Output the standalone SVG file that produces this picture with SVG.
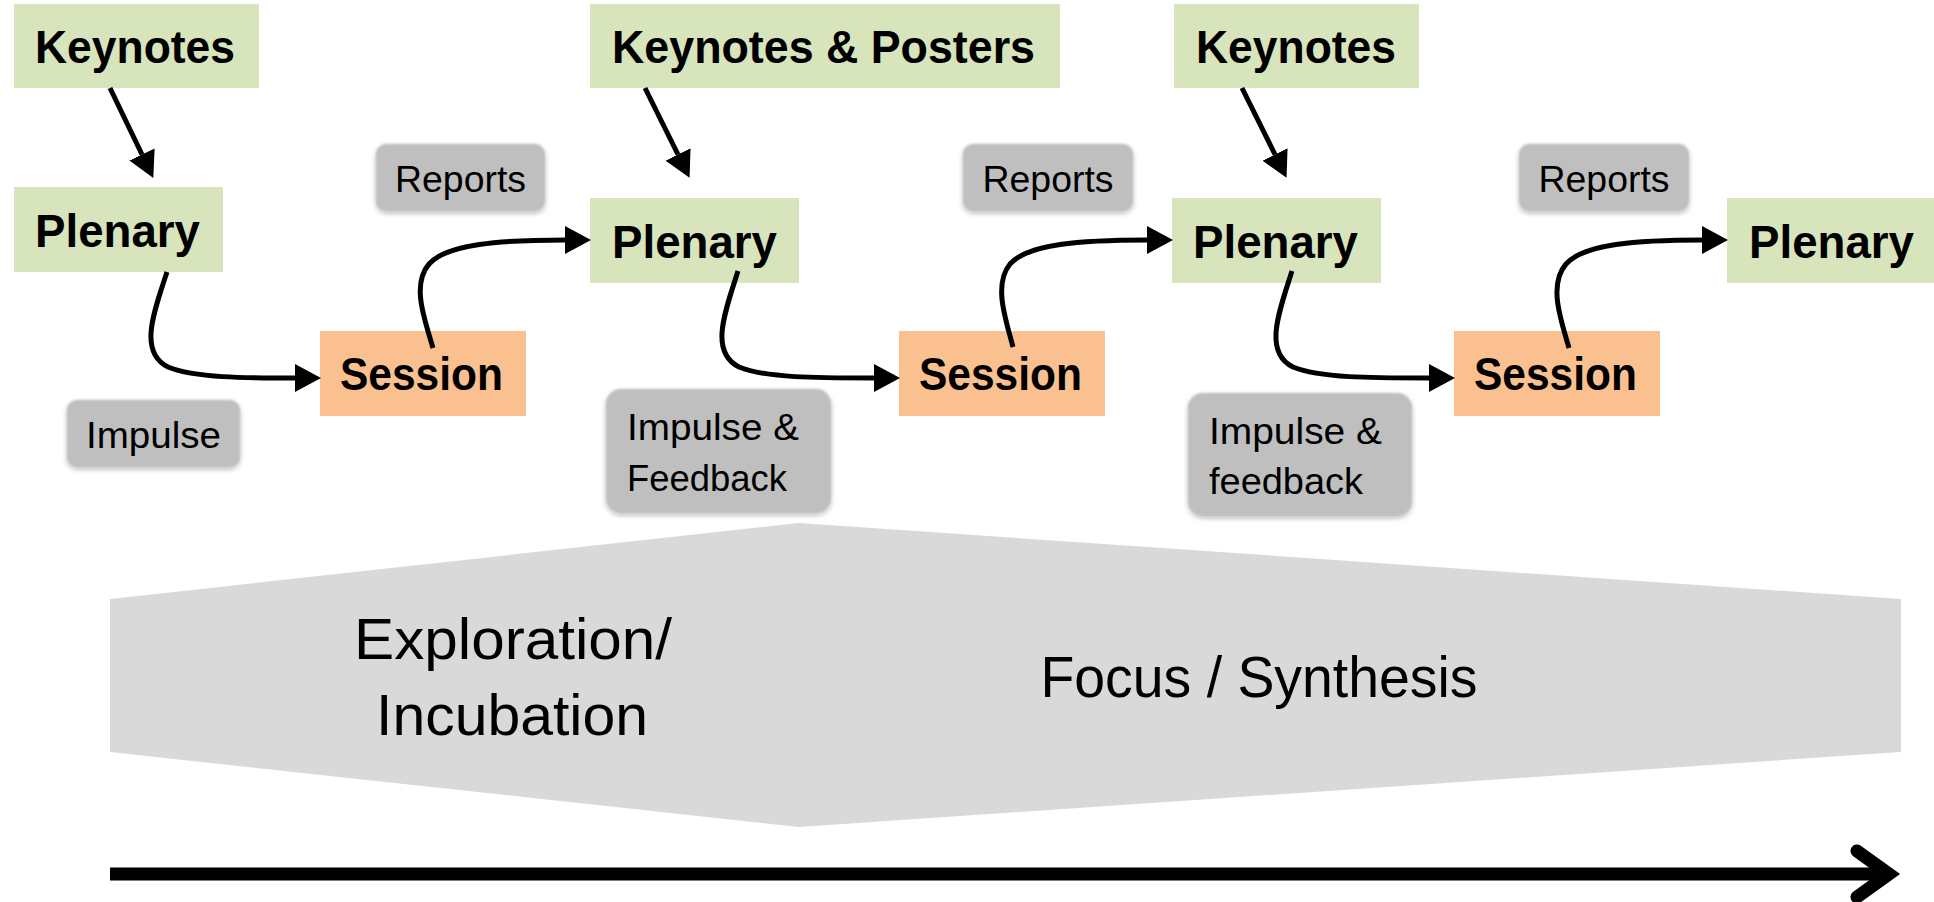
<svg xmlns="http://www.w3.org/2000/svg" width="1934" height="902" viewBox="0 0 1934 902">
<style>
.green{fill:#d8e4bc}
.orange{fill:#fac090}
.grey{fill:#bfbfbf}
.band{fill:#d9d9d9}
.b{font-family:"Liberation Sans",Arial,sans-serif;font-weight:bold;font-size:46px;fill:#000}
.r{font-family:"Liberation Sans",Arial,sans-serif;font-size:36px;fill:#000}
.big{font-family:"Liberation Sans",Arial,sans-serif;font-size:57px;fill:#000}
.conn{fill:none;stroke:#000;stroke-width:5}
</style>
<defs>
<marker id="ah" markerUnits="userSpaceOnUse" markerWidth="26" markerHeight="28" viewBox="0 0 26 28" refX="0" refY="14" orient="auto">
<path d="M0,0 L26,14 L0,28 Z" fill="#000"/>
</marker>
<filter id="soft" x="-10%" y="-10%" width="120%" height="130%">
<feGaussianBlur in="SourceAlpha" stdDeviation="2.5" result="b"/>
<feOffset in="b" dx="0" dy="2" result="o"/>
<feComponentTransfer in="o" result="s"><feFuncA type="linear" slope="0.35"/></feComponentTransfer>
<feGaussianBlur in="SourceGraphic" stdDeviation="1.2" result="g"/>
<feMerge><feMergeNode in="s"/><feMergeNode in="g"/></feMerge>
</filter>
</defs>

<g id="phases">
<polygon class="band" points="110,599 799,523 799,827 110,752"/>
<polygon class="band" points="799,523 1901,599 1901,752 799,827"/>
<text class="big" x="513" y="659" text-anchor="middle" textLength="318" lengthAdjust="spacingAndGlyphs">Exploration/</text>
<text class="big" x="512" y="735" text-anchor="middle" textLength="272" lengthAdjust="spacingAndGlyphs">Incubation</text>
<text class="big" x="1259" y="697" text-anchor="middle" textLength="437" lengthAdjust="spacingAndGlyphs">Focus / Synthesis</text>
</g>

<g id="timeline">
<line x1="110" y1="874" x2="1889" y2="874" stroke="#000" stroke-width="13"/>
<polyline points="1857,851 1889,874 1857,897" fill="none" stroke="#000" stroke-width="13" stroke-linecap="round" stroke-linejoin="miter"/>
</g>

<g id="keynotes1"><rect class="green" x="14" y="4" width="245" height="84"/><text class="b" x="35" y="63" textLength="200" lengthAdjust="spacingAndGlyphs">Keynotes</text></g>
<g id="keynotes2"><rect class="green" x="590" y="4" width="470" height="84"/><text class="b" x="612" y="63" textLength="423" lengthAdjust="spacingAndGlyphs">Keynotes &amp; Posters</text></g>
<g id="keynotes3"><rect class="green" x="1174" y="4" width="245" height="84"/><text class="b" x="1196" y="63" textLength="200" lengthAdjust="spacingAndGlyphs">Keynotes</text></g>

<g id="plenary1"><rect class="green" x="14" y="187" width="209" height="85"/><text class="b" x="35" y="247" textLength="165" lengthAdjust="spacingAndGlyphs">Plenary</text></g>
<g id="plenary2"><rect class="green" x="590" y="198" width="209" height="85"/><text class="b" x="612" y="258" textLength="165" lengthAdjust="spacingAndGlyphs">Plenary</text></g>
<g id="plenary3"><rect class="green" x="1172" y="198" width="209" height="85"/><text class="b" x="1193" y="258" textLength="165" lengthAdjust="spacingAndGlyphs">Plenary</text></g>
<g id="plenary4"><rect class="green" x="1727" y="198" width="207" height="85"/><text class="b" x="1749" y="258" textLength="165" lengthAdjust="spacingAndGlyphs">Plenary</text></g>

<g id="session1"><rect class="orange" x="320" y="331" width="206" height="85"/><text class="b" x="340" y="390" textLength="163" lengthAdjust="spacingAndGlyphs">Session</text></g>
<g id="session2"><rect class="orange" x="899" y="331" width="206" height="85"/><text class="b" x="919" y="390" textLength="163" lengthAdjust="spacingAndGlyphs">Session</text></g>
<g id="session3"><rect class="orange" x="1454" y="331" width="206" height="85"/><text class="b" x="1474" y="390" textLength="163" lengthAdjust="spacingAndGlyphs">Session</text></g>

<g id="reports1"><rect class="grey" x="376" y="144" width="169" height="67" rx="10" filter="url(#soft)"/><text class="r" x="460.5" y="192" text-anchor="middle" textLength="131" lengthAdjust="spacingAndGlyphs">Reports</text></g>
<g id="reports2"><rect class="grey" x="963" y="144" width="170" height="67" rx="10" filter="url(#soft)"/><text class="r" x="1048" y="192" text-anchor="middle" textLength="131" lengthAdjust="spacingAndGlyphs">Reports</text></g>
<g id="reports3"><rect class="grey" x="1519" y="144" width="170" height="67" rx="10" filter="url(#soft)"/><text class="r" x="1604" y="192" text-anchor="middle" textLength="131" lengthAdjust="spacingAndGlyphs">Reports</text></g>

<g id="impulse1"><rect class="grey" x="67" y="400" width="173" height="67" rx="10" filter="url(#soft)"/><text class="r" x="153.5" y="448" text-anchor="middle" textLength="135" lengthAdjust="spacingAndGlyphs">Impulse</text></g>
<g id="impulse2"><rect class="grey" x="606" y="389" width="225" height="124" rx="15" filter="url(#soft)"/><text class="r" x="627" y="440" textLength="172" lengthAdjust="spacingAndGlyphs">Impulse &amp;</text><text class="r" x="627" y="491" textLength="160" lengthAdjust="spacingAndGlyphs">Feedback</text></g>
<g id="impulse3"><rect class="grey" x="1188" y="393" width="224" height="123" rx="15" filter="url(#soft)"/><text class="r" x="1209" y="444" textLength="173" lengthAdjust="spacingAndGlyphs">Impulse &amp;</text><text class="r" x="1209" y="494" textLength="154" lengthAdjust="spacingAndGlyphs">feedback</text></g>

<g id="connectors">
<path class="conn" marker-end="url(#ah)" d="M110,88 L142,154.5"/>
<path class="conn" marker-end="url(#ah)" d="M645,88 L678,154.5"/>
<path class="conn" marker-end="url(#ah)" d="M1242,88 L1275,154.5"/>
<path class="conn" marker-end="url(#ah)" d="M167,272 C154,312 138,352 168,367 C195,378 245,378 295,378"/>
<path class="conn" marker-end="url(#ah)" d="M738,271 C725,312 709,352 739,367 C766,378 816,378 874,378"/>
<path class="conn" marker-end="url(#ah)" d="M1292,271 C1279,312 1263,352 1293,367 C1320,378 1370,378 1429,378"/>
<path class="conn" marker-end="url(#ah)" d="M433,348 C425,320 411,285 429,264 C447,244 500,240 565,240"/>
<path class="conn" marker-end="url(#ah)" d="M1013,347 C1006,320 993,285 1010,264 C1028,244 1080,240 1147,240"/>
<path class="conn" marker-end="url(#ah)" d="M1569,348 C1561,320 1548,285 1566,264 C1584,244 1636,240 1702,240"/>
</g>
</svg>
